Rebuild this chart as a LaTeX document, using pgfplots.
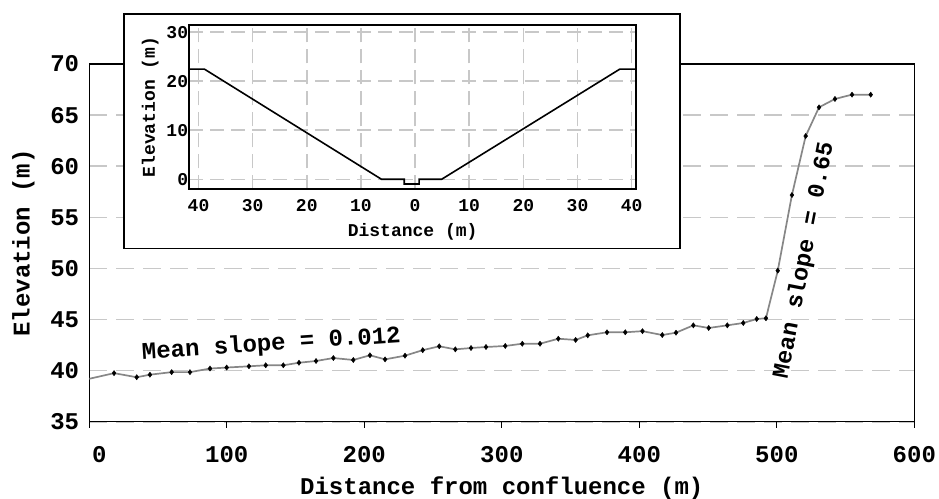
\documentclass[border=0pt]{standalone}
\usepackage{pgfplots}
\pgfplotsset{compat=1.18}
\usepackage{fontspec}
\setmainfont{Liberation Mono}
\definecolor{gridgray}{RGB}{200,200,200}
\definecolor{linegray}{RGB}{135,135,135}
\pgfplotstableread{
x y
0 39.2
18.0 39.75
34.5 39.35
44.1 39.6
59.9 39.85
73.2 39.85
87.8 40.2
99.9 40.3
116.1 40.42
128.3 40.52
141.1 40.52
152.5 40.77
164.9 40.94
177.5 41.23
192.0 41.04
204.1 41.5
215.1 41.1
229.6 41.46
242.5 42.0
254.5 42.38
266.2 42.08
277.6 42.21
288.5 42.31
302.5 42.41
314.9 42.63
327.8 42.63
341.1 43.12
353.7 43.0
362.5 43.45
376.5 43.75
389.8 43.75
402.3 43.86
416.7 43.48
426.7 43.71
439.3 44.43
450.5 44.17
464.0 44.43
475.6 44.66
485.4 45.05
492.1 45.12
500.7 49.78
511.0 57.18
521.0 62.95
530.7 65.76
542.3 66.58
554.7 67.0
568.3 67.0
}\profile
\pgfplotstableread{
x y
-41.7 22.45
-38.9 22.45
-6.2 0
-2.0 0
-2.0 -0.96
0.75 -0.96
0.75 0
4.9 0
37.8 22.45
40.8 22.45
}\section
\begin{document}
\begin{tikzpicture}
\begin{axis}[
  at={(0pt,0pt)}, anchor=south west,
  scale only axis, width=825pt, height=357.7pt,
  xmin=0, xmax=600, ymin=35, ymax=70,
  xtick={0,100,...,600}, ytick={35,40,...,70},
  xticklabels={\hspace*{20pt}0,100,200,300,400,500,600},
  ymajorgrids,
  grid style={gridgray, line width=1.6pt, dash pattern=on 18pt off 9pt},
  axis line style={line width=1.3pt},
  xtick pos=bottom, ytick pos=left, tick align=outside,
  xtick style={black, line width=1pt},
  ytick style={draw=none},
  major tick length=6pt,
  /pgf/number format/assume math mode=true,
  ticklabel style={font=\bfseries\fontsize{24}{28}\selectfont},
  xticklabel style={anchor=center, yshift=-27pt},
  yticklabel style={anchor=east, inner sep=0pt, xshift=-4pt},
  label style={font=\bfseries\fontsize{24}{28}\selectfont},
  xlabel={Distance from confluence (m)},
  ylabel={Elevation (m)},
  xlabel style={at={([yshift=-66pt]axis description cs:0.5,0)}, anchor=center},
  ylabel style={at={([xshift=-66pt]axis description cs:0,0.5)}, anchor=center},
]
\addplot[linegray, line width=1.7pt] table[x=x,y=y] {\profile};
\addplot[only marks, mark=diamond*, mark size=2.6pt, black, skip coords between index={0}{1}] table[x=x,y=y] {\profile};
\node[rotate=3.8, font=\bfseries\fontsize{24}{28}\selectfont] at (axis cs:132.4,42.55) {Mean slope = 0.012};
\node[rotate=79, font=\bfseries\fontsize{23.5}{28}\selectfont] at (axis cs:520,50.8) {Mean slope = 0.65};
\end{axis}
\draw[line width=1.3pt, fill=white] (34.7pt,173.2pt) rectangle (590.7pt,407.7pt);
\begin{axis}[
  at={(100pt,232.4pt)}, anchor=south west,
  scale only axis, width=446.7pt, height=164.3pt,
  xmin=-41.7, xmax=40.8, ymin=-2.04, ymax=31.45,
  xtick={-40,-30,...,40}, xticklabels={40,30,20,10,0,10,20,30,40},
  ytick={0,10,20,30},
  xmajorgrids, ymajorgrids,
  grid style={gridgray, line width=1.5pt, dash pattern=on 14pt off 7pt},
  axis line style={line width=1.8pt},
  major tick length=0pt,
  /pgf/number format/assume math mode=true,
  ticklabel style={font=\bfseries\fontsize{18}{22}\selectfont},
  xticklabel style={anchor=center, yshift=-16.7pt},
  yticklabel style={anchor=east, inner sep=0pt, xshift=-1pt},
  label style={font=\bfseries\fontsize{18}{22}\selectfont},
  xlabel={Distance (m)},
  ylabel={Elevation (m)},
  xlabel style={at={([yshift=-43pt]axis description cs:0.5,0)}, anchor=center},
  ylabel style={at={([xshift=-39pt]axis description cs:0,0.5)}, anchor=center},
]
\addplot[black, line width=1.6pt] table[x=x,y=y] {\section};
\end{axis}
\pgfresetboundingbox
\path (-89.3pt,-76.3pt) rectangle (849.7pt,421.7pt);
\end{tikzpicture}
\end{document}
